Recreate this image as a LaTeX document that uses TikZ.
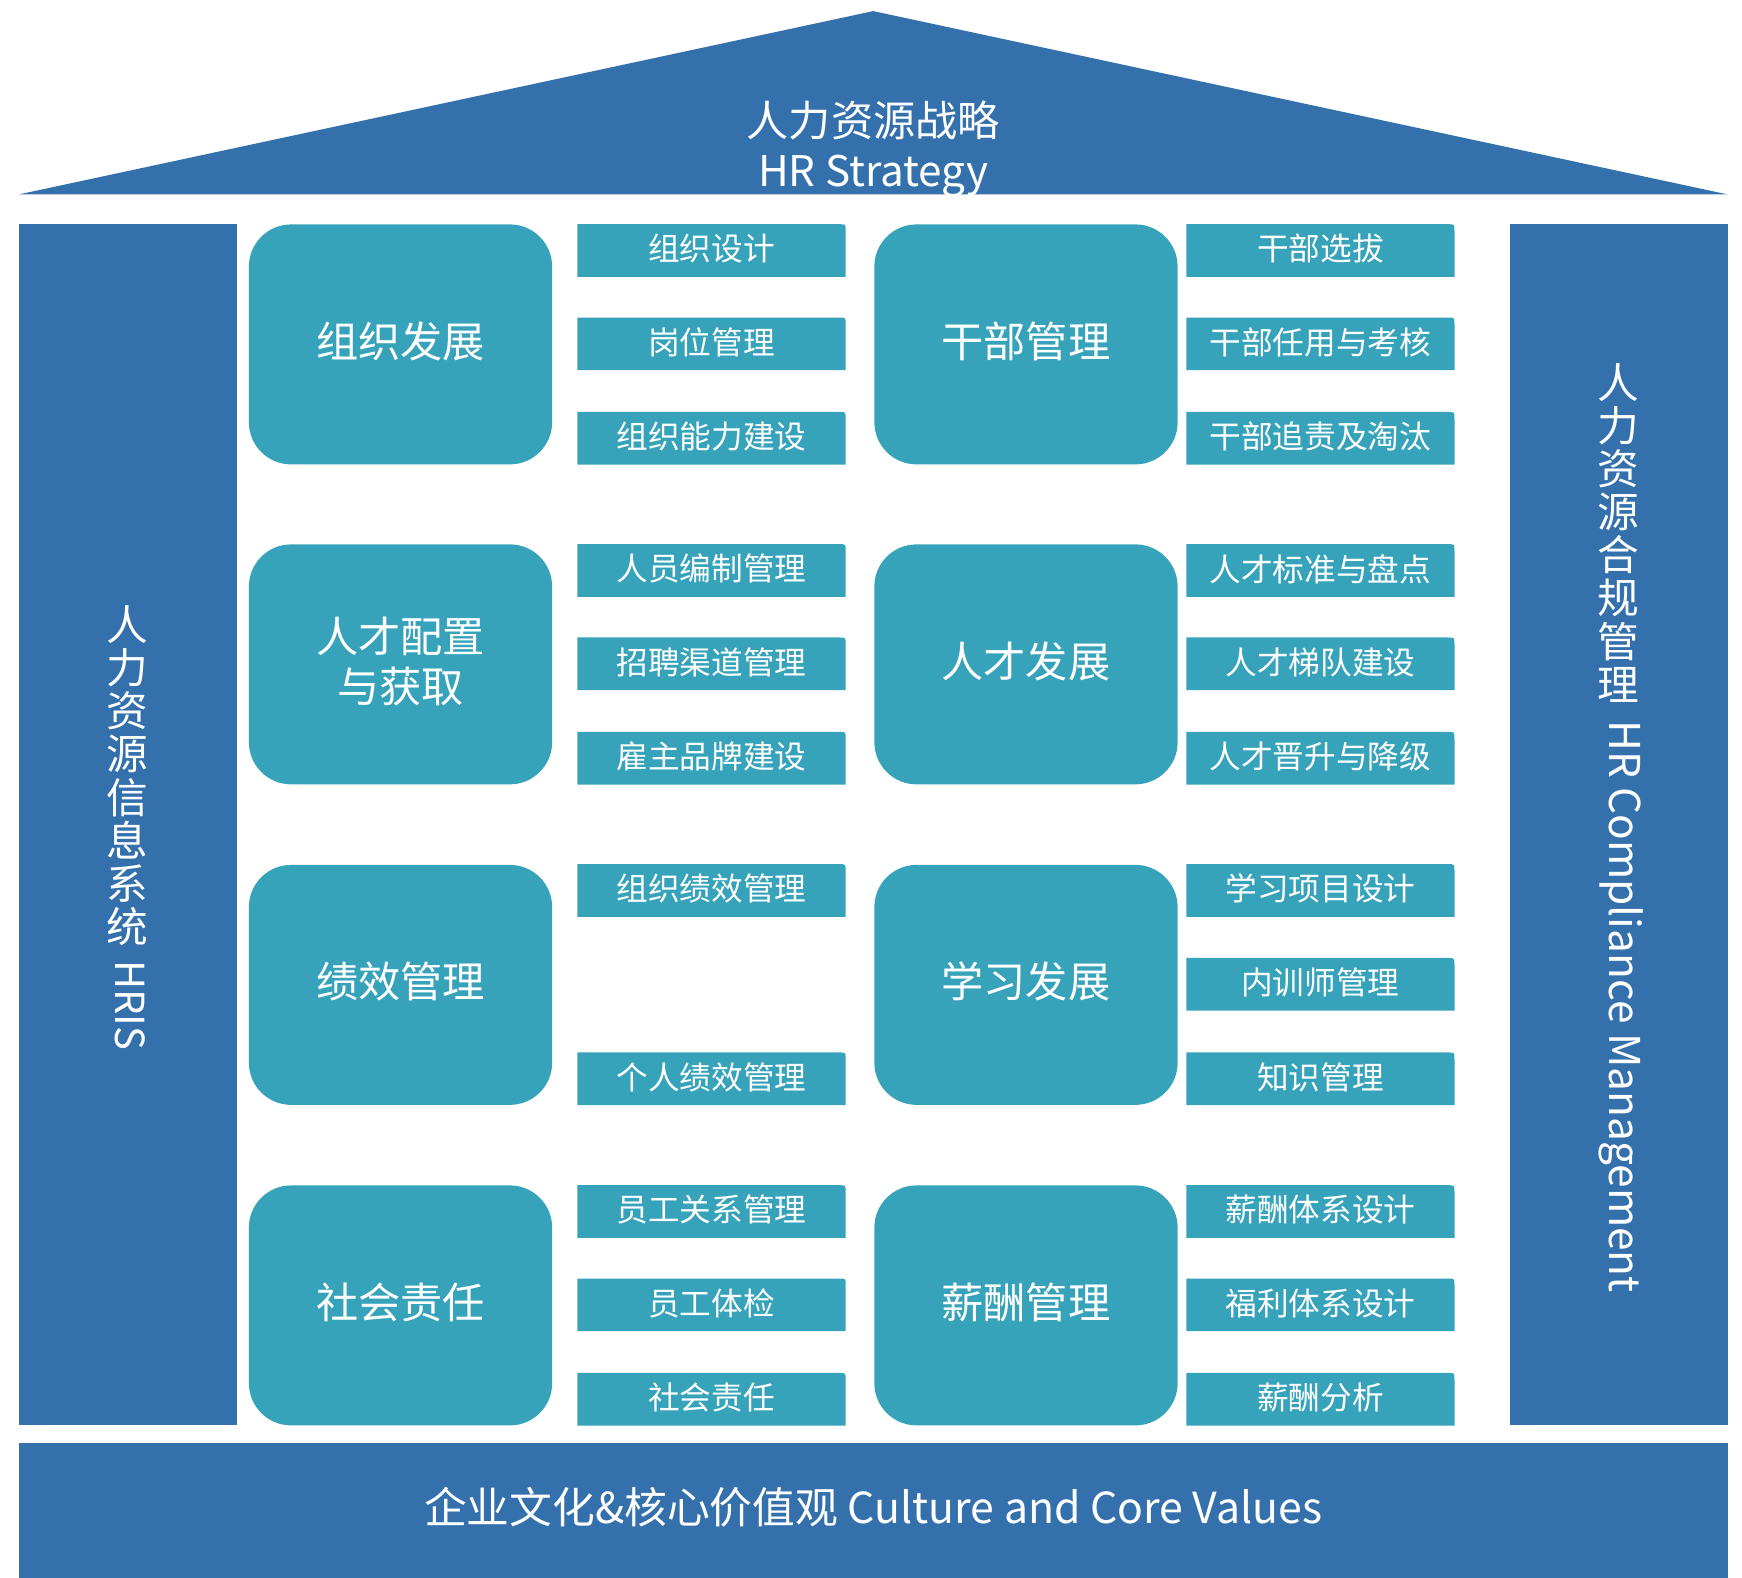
\documentclass[tikz,border=0pt]{standalone}
\usepackage{fontspec}
\setmainfont{Noto Sans CJK SC}
\newfontfamily\latinf{Noto Sans CJK SC}
\usetikzlibrary{backgrounds}
\definecolor{hrblue}{RGB}{52,112,172}
\definecolor{hrteal}{RGB}{55,163,186}
\newcommand\subbox[4]{%
  \node[subbox] (#1) at (#2,#3) {#4};
  \begin{pgfonlayer}{background}
  \fill[hrteal] ([yshift=-1.5pt]#1.south west) -- ([yshift=-1.5pt]#1.north west) -- ([xshift=-6pt,yshift=-1.5pt]#1.north east)
    .. controls ([yshift=-1.5pt]#1.north east) .. ([yshift=-7.5pt]#1.north east) -- ([yshift=-1.5pt]#1.south east) -- cycle;
  \end{pgfonlayer}}
\begin{document}
\begin{tikzpicture}[x=1pt,y=-1pt,
  bigbox/.style={fill=hrteal, rounded corners=38pt, minimum width=273pt, minimum height=216pt,
    text=white, font=\fontsize{38}{45}\selectfont, align=center, inner sep=0pt},
  bigtext/.style={text=white, font=\fontsize{38}{45}\selectfont, align=center, inner sep=0pt},
  subbox/.style={minimum width=241pt, minimum height=47pt, text=white,
    font=\fontsize{28.5}{30}\selectfont, inner sep=0pt},
  pillar/.style={fill=hrblue, minimum width=196pt, minimum height=1081pt, inner sep=0pt},
  wtext/.style={text=white, inner sep=0pt}]
\useasboundingbox (0,0) rectangle (1568,1420);
% roof
\coordinate (roofL) at (17,175);
\coordinate (roofT) at (786,10);
\coordinate (roofR) at (1555,175);
\fill[hrblue] (roofL) -- (roofT) -- (roofR) -- cycle;
\node[wtext, font=\fontsize{38}{40}\selectfont] (roofcn) at (786,108) {人力资源战略};
\node[wtext, font=\fontsize{38}{40}\selectfont\latinf] (roofen) at (786,158) {HR Strategy};
% pillars
\node[pillar] (leftp) at (115,742.5) {};
\node[pillar] (rightp) at (1457,742.5) {};
\node[wtext, anchor=north, align=center, font=\fontsize{37.5}{38.8}\selectfont] (lefttxt) at (115,545)
  {人\\力\\资\\源\\信\\息\\系\\统};
\node[wtext, rotate=-90, anchor=west, font=\fontsize{36}{40}\selectfont\latinf] (hris) at (117,864) {HRIS};
\node[wtext, anchor=north, align=center, font=\fontsize{37.5}{38.8}\selectfont] (righttxt) at (1457,327)
  {人\\力\\资\\源\\合\\规\\管\\理};
\node[wtext, rotate=-90, anchor=west, font=\fontsize{38.2}{40}\selectfont\latinf] (hrcm) at (1459,648) {HR Compliance Management};
% base
\node[fill=hrblue, minimum width=1538pt, minimum height=121pt, inner sep=0pt] (base) at (786,1359.5) {};
\node[wtext, font=\fontsize{38.5}{40}\selectfont] (basetxt) at (786,1357) {企业文化\&核心价值观 {\latinf Culture and Core Values}};
% row 1
\node[bigbox] (b1) at (360.5,310) {};
\node[bigtext] (t1) at (360.5,307) {组织发展};
\subbox{s11}{640.5}{224}{组织设计}
\subbox{s12}{640.5}{308}{岗位管理}
\subbox{s13}{640.5}{393}{组织能力建设}
\node[bigbox] (b2) at (923.5,310) {};
\node[bigtext] (t2) at (923.5,307) {干部管理};
\subbox{s21}{1188.5}{224}{干部选拔}
\subbox{s22}{1188.5}{308}{干部任用与考核}
\subbox{s23}{1188.5}{393}{干部追责及淘汰}
% row 2
\node[bigbox] (b3) at (360.5,598) {};
\node[bigtext] (t3) at (360.5,595) {人才配置\\与获取};
\subbox{s31}{640.5}{512}{人员编制管理}
\subbox{s32}{640.5}{596}{招聘渠道管理}
\subbox{s33}{640.5}{681}{雇主品牌建设}
\node[bigbox] (b4) at (923.5,598) {};
\node[bigtext] (t4) at (923.5,595) {人才发展};
\subbox{s41}{1188.5}{512}{人才标准与盘点}
\subbox{s42}{1188.5}{596}{人才梯队建设}
\subbox{s43}{1188.5}{681}{人才晋升与降级}
% row 3
\node[bigbox] (b5) at (360.5,886.5) {};
\node[bigtext] (t5) at (360.5,883.5) {绩效管理};
\subbox{s51}{640.5}{800}{组织绩效管理}
\subbox{s53}{640.5}{969.5}{个人绩效管理}
\node[bigbox] (b6) at (923.5,886.5) {};
\node[bigtext] (t6) at (923.5,883.5) {学习发展};
\subbox{s61}{1188.5}{800}{学习项目设计}
\subbox{s62}{1188.5}{884.5}{内训师管理}
\subbox{s63}{1188.5}{969.5}{知识管理}
% row 4
\node[bigbox] (b7) at (360.5,1175) {};
\node[bigtext] (t7) at (360.5,1172) {社会责任};
\subbox{s71}{640.5}{1089}{员工关系管理}
\subbox{s72}{640.5}{1173}{员工体检}
\subbox{s73}{640.5}{1258}{社会责任}
\node[bigbox] (b8) at (923.5,1175) {};
\node[bigtext] (t8) at (923.5,1172) {薪酬管理};
\subbox{s81}{1188.5}{1089}{薪酬体系设计}
\subbox{s82}{1188.5}{1173}{福利体系设计}
\subbox{s83}{1188.5}{1258}{薪酬分析}
\end{tikzpicture}
\end{document}
